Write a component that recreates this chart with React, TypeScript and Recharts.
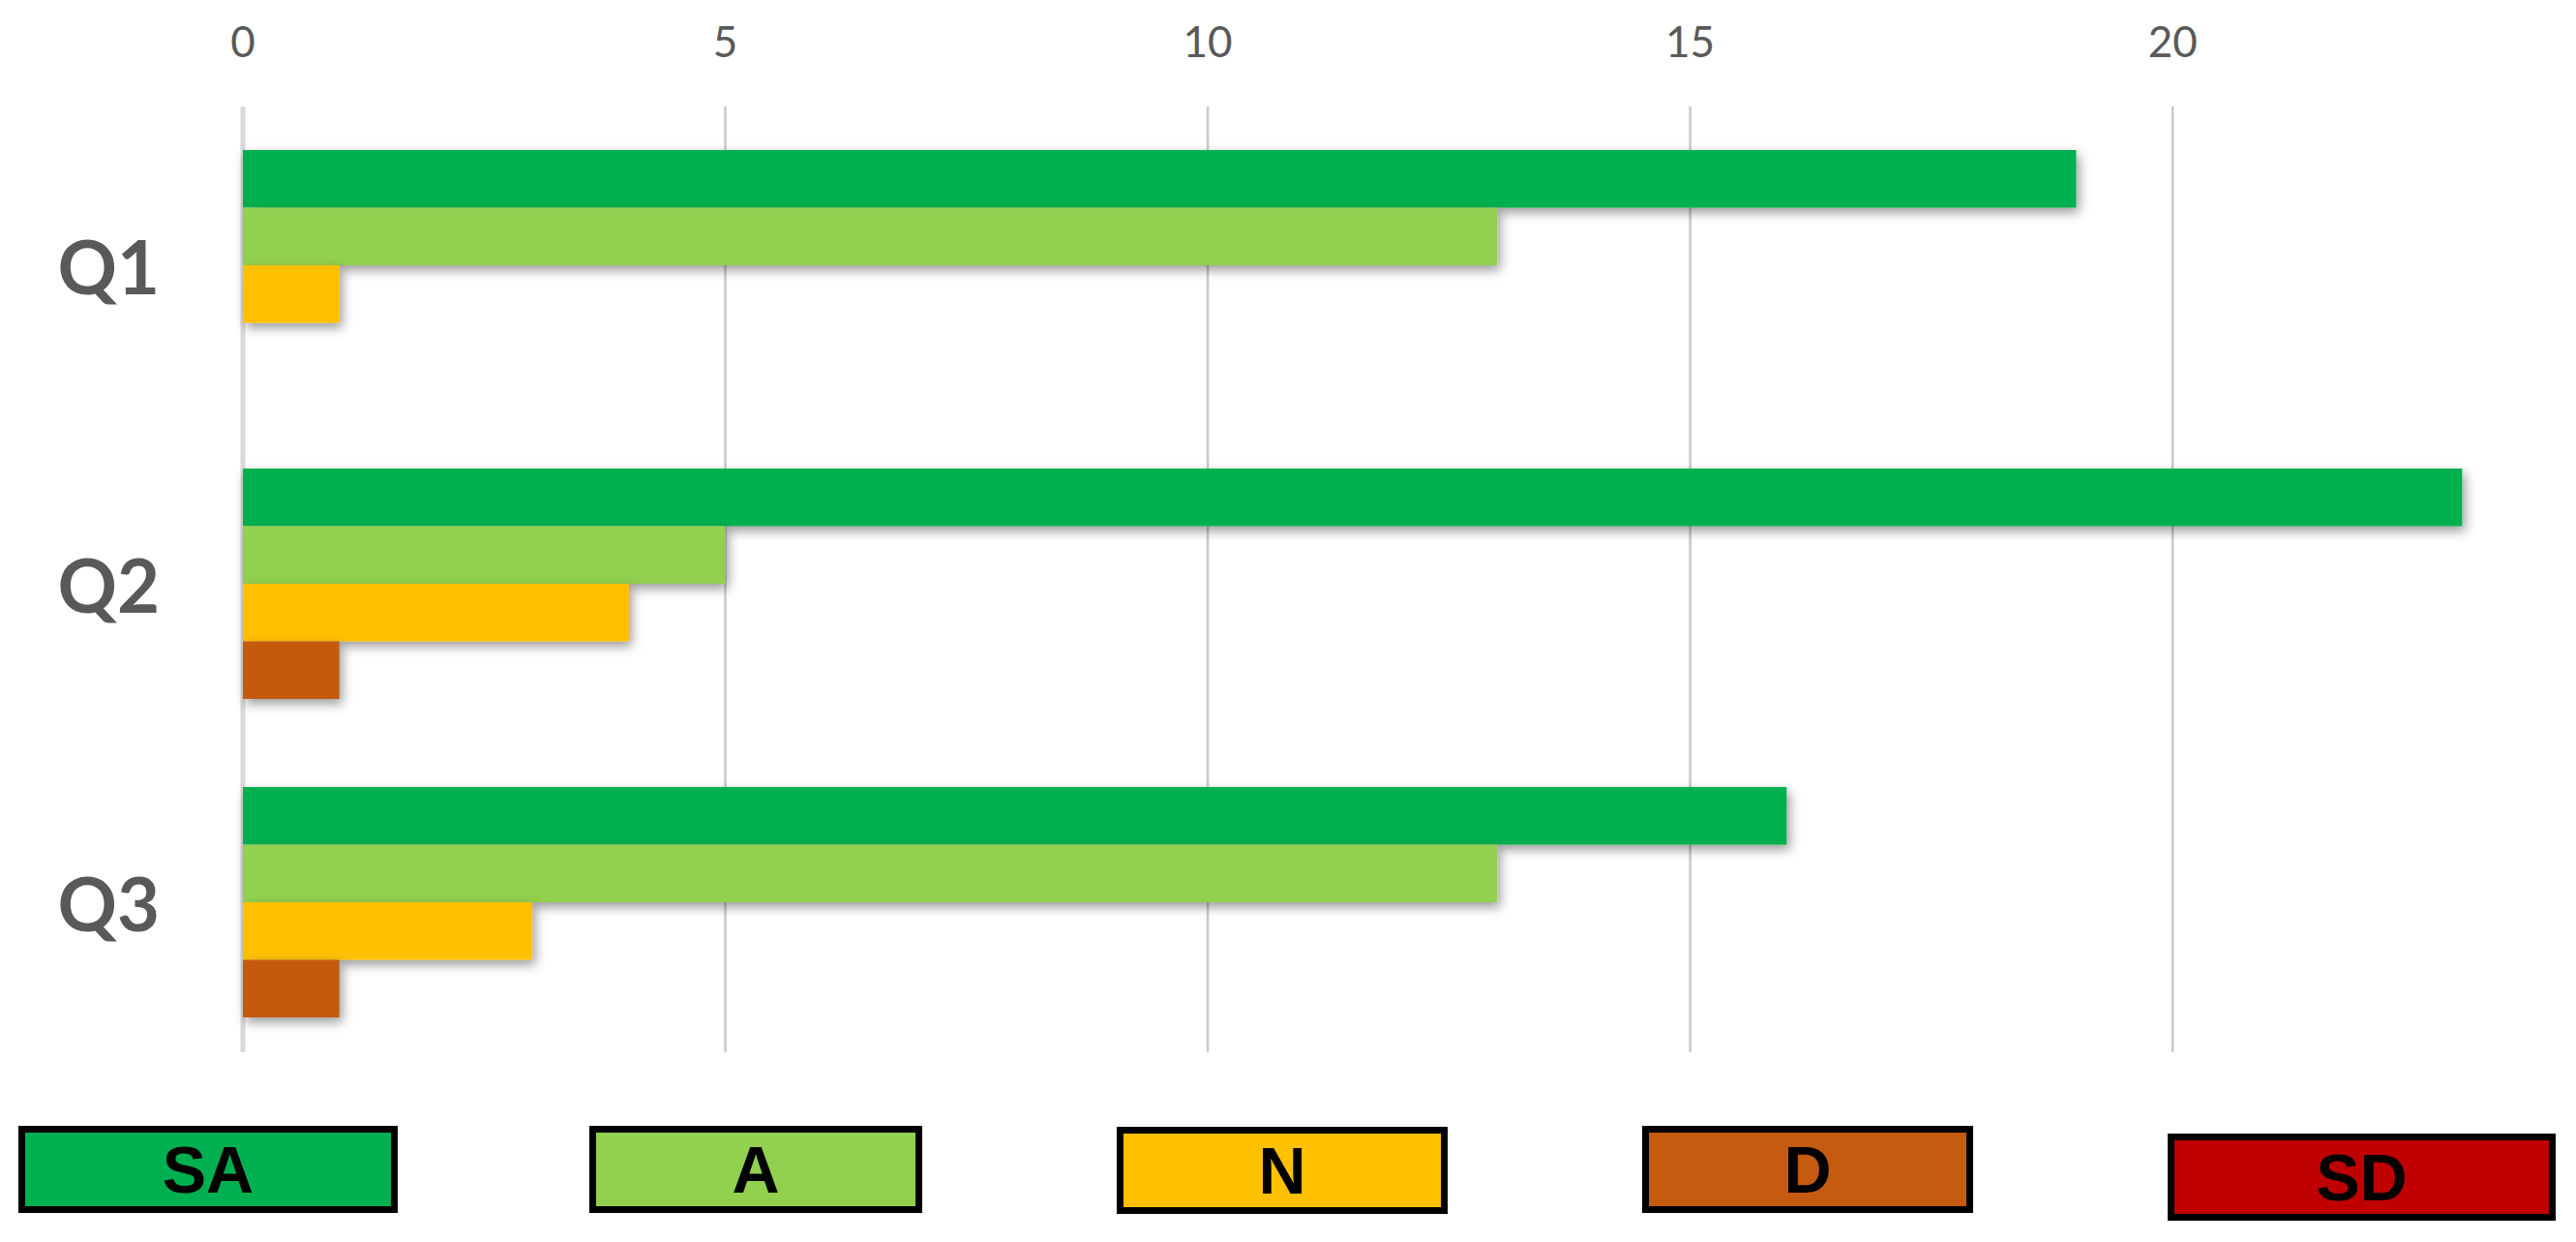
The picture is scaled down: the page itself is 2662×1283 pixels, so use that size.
import React from "react";
import { Bar, BarChart, CartesianGrid, XAxis, YAxis } from "recharts";

const questions = ["Q1", "Q2", "Q3"];
const seriesNames = ["SA", "A", "N", "D", "SD"];
const seriesColors = ["#00B050", "#92D050", "#FFC000", "#C55A11", "#C00000"];
const saValues = [19, 23, 16];
const aValues = [13, 5, 13];
const nValues = [1, 4, 3];
const dValues = [0, 1, 1];
const sdValues = [0, 0, 0];
const xTicks = [0, 5, 10, 15, 20];

const seriesValues = [saValues, aValues, nValues, dValues, sdValues];

const data = questions.map((q, i) => {
  const row: Record<string, string | number> = { name: q };
  seriesNames.forEach((s, j) => {
    row[s] = seriesValues[j][i];
  });
  return row;
});

// legend boxes sit a bit irregularly under the chart
const legendBoxes = [
  { left: 19, top: 1163, width: 392 },
  { left: 609, top: 1163, width: 344 },
  { left: 1154, top: 1164, width: 342 },
  { left: 1697, top: 1163, width: 342 },
  { left: 2240, top: 1171, width: 401 },
];

const labelFont = "Lato, 'Open Sans', sans-serif";

const ShadowBar = (props: any) => {
  const { x, y, width, height, fill } = props;
  if (!width || width <= 0) return <g />;
  return (
    <rect
      x={x}
      y={y}
      width={width}
      height={height}
      fill={fill}
      filter="url(#barShadow)"
    />
  );
};

const QTick = (props: any) => {
  const { x, y, payload } = props;
  return (
    <text
      x={x}
      y={y}
      textAnchor="end"
      fill="#595959"
      fontSize={76}
      fontWeight={700}
      fontFamily={labelFont}
    >
      {payload.value}
    </text>
  );
};

const GridLine = (props: any) => {
  const { x1, y1, x2, y2, index } = props;
  // only the tick positions get a line, not the plot's right edge
  if (index >= xTicks.length) return <g />;
  const isZero = index === 0;
  return (
    <line
      x1={x1}
      x2={x2}
      y1={y1 - 29}
      y2={y2 - 39}
      stroke={isZero ? "#d9d9d9" : "#c9c9c9"}
      strokeWidth={isZero ? 5 : 2.5}
    />
  );
};

const App = () => {
  return (
    <div
      style={{
        position: "absolute",
        left: 0,
        top: 0,
        width: 2662,
        height: 1283,
        background: "#fff",
      }}
    >
      <svg width={0} height={0} style={{ position: "absolute" }}>
        <defs>
          <filter id="barShadow" x="-20%" y="-60%" width="140%" height="220%">
            <feDropShadow
              dx={3}
              dy={5}
              stdDeviation={6}
              floodColor="#000"
              floodOpacity={0.4}
            />
          </filter>
        </defs>
      </svg>
      <BarChart
        width={2662}
        height={1283}
        data={data}
        layout="vertical"
        margin={{ top: 0, right: 18, bottom: 157, left: 0 }}
        barGap={0}
        barSize={59.5}
      >
        <CartesianGrid horizontal={false} vertical={GridLine} />
        <XAxis
          type="number"
          orientation="top"
          domain={[0, 24]}
          ticks={xTicks}
          height={139}
          axisLine={false}
          tickLine={false}
          tickSize={0}
          tickMargin={80}
          tick={{ fill: "#595959", fontSize: 44, fontFamily: labelFont }}
        />
        <YAxis
          type="category"
          dataKey="name"
          width={251}
          axisLine={false}
          tickLine={false}
          tickSize={0}
          tickMargin={86}
          tick={QTick}
        />
        {seriesNames.map((s, i) => (
          <Bar
            key={s}
            dataKey={s}
            fill={seriesColors[i]}
            isAnimationActive={false}
            shape={ShadowBar}
          />
        ))}
      </BarChart>
      {seriesNames.map((s, i) => (
        <div
          key={s}
          style={{
            position: "absolute",
            left: legendBoxes[i].left,
            top: legendBoxes[i].top,
            width: legendBoxes[i].width,
            height: 90,
            boxSizing: "border-box",
            border: "7px solid #000",
            background: seriesColors[i],
            display: "flex",
            alignItems: "center",
            justifyContent: "center",
            fontFamily: "'Liberation Sans', Arial, sans-serif",
            fontWeight: 700,
            fontSize: 68,
            color: "#000",
          }}
        >
          {s}
        </div>
      ))}
    </div>
  );
};

export default App;
